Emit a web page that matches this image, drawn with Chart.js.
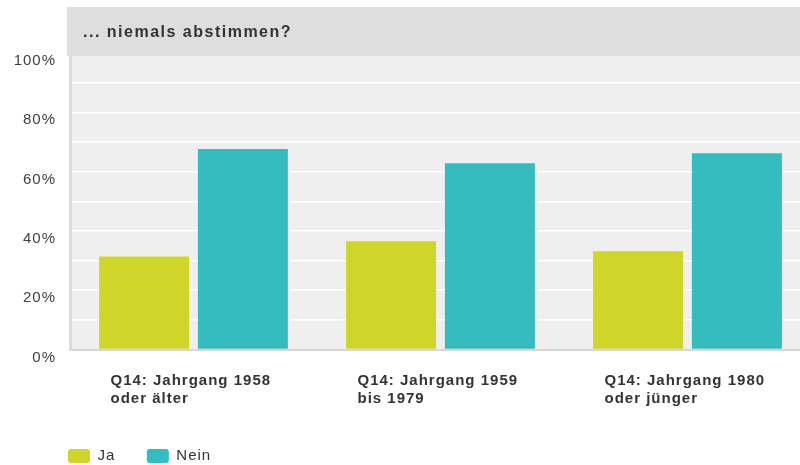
<!DOCTYPE html>
<html><head><meta charset="utf-8">
<script src="https://cdn.jsdelivr.net/npm/chart.js@4/dist/chart.umd.min.js"></script>
<style>
html,body{margin:0;padding:0;overflow:hidden;background:#fff;}
#wrap{position:relative;width:811px;height:465px;}
</style></head><body>
<div id="wrap"><canvas id="c"></canvas></div>
<script>
const categories = [["Q14: Jahrgang 1958","oder älter"],["Q14: Jahrgang 1959","bis 1979"],["Q14: Jahrgang 1980","oder jünger"]];
const seriesNames = ["Ja","Nein"];
const jaValues = [31.4, 36.5, 33.1];
const neinValues = [67.6, 62.8, 66.2];
const yTickValues = [0, 20, 40, 60, 80, 100];
const titleText = "... niemals abstimmen?";

const FONT = '"Liberation Sans", Arial, sans-serif';

const decor = {
  id: 'decor',
  afterLayout(chart) {
    if (chart.legend) {
      chart.legend.left = 36.5;
      chart.legend.top = 417;
    }
  },
  beforeDraw(chart) {
    const {ctx, chartArea: a} = chart;
    ctx.save();
    ctx.fillStyle = '#efefef';
    ctx.fillRect(a.left, a.top, a.right - a.left, a.bottom - a.top);
    ctx.restore();
    ctx.letterSpacing = '1px';
  },
  afterDraw(chart) {
    const {ctx} = chart;
    ctx.save();
    ctx.fillStyle = '#dedede';
    ctx.fillRect(67, 7, chart.width - 67, 49);
    ctx.font = 'bold 16px ' + FONT;
    ctx.letterSpacing = '1.5px';
    ctx.fillStyle = '#333333';
    ctx.textBaseline = 'alphabetic';
    ctx.textAlign = 'left';
    ctx.fillText(titleText, 83, 36.5);
    ctx.restore();
  }
};

new Chart(document.getElementById('c'), {
  type: 'bar',
  data: {
    labels: categories,
    datasets: [
      {label: seriesNames[0], data: jaValues, backgroundColor: '#d0d52a', borderWidth: 0},
      {label: seriesNames[1], data: neinValues, backgroundColor: '#34bcbf', borderWidth: 0}
    ]
  },
  options: {
    responsive: true,
    maintainAspectRatio: false,
    animation: false,
    datasets: {bar: {categoryPercentage: 0.8, barPercentage: 0.911}},
    layout: {padding: {top: 53, left: 0, right: 0, bottom: -7.5}},
    plugins: {
      title: {display: false},
      tooltip: {enabled: false},
      legend: {
        position: 'bottom',
        align: 'start',
        labels: {
          boxWidth: 22, boxHeight: 14, padding: 31.5,
          useBorderRadius: true, borderRadius: 3,
          color: '#333333',
          font: {family: FONT, size: 15}
        }
      }
    },
    scales: {
      x: {
        grid: {display: false, drawTicks: false},
        border: {display: true, color: '#d8d8d8', width: 2},
        ticks: {
          autoSkip: false, maxRotation: 0, minRotation: 0,
          align: 'start', labelOffset: -83, padding: 23,
          color: '#333333',
          font: {family: FONT, size: 15, weight: 'bold', lineHeight: 1.15}
        },
        afterFit(s) { s.height = 66.5; s.paddingLeft = 0; s.paddingRight = 0; }
      },
      y: {
        min: 0, max: 100,
        grid: {
          drawTicks: false, lineWidth: 1.5,
          color: (c) => (c.tick && c.tick.value === 0) ? 'rgba(0,0,0,0)' : '#ffffff'
        },
        border: {display: true, color: '#dcdcdc', width: 3},
        ticks: {
          stepSize: 10, padding: 14, labelOffset: 8,
          color: '#404040',
          font: {family: FONT, size: 15},
          callback: (v) => yTickValues.includes(v) ? v + '%' : ''
        },
        afterFit(s) { s.width = 70; }
      }
    }
  },
  plugins: [decor]
});
</script>
</body></html>
